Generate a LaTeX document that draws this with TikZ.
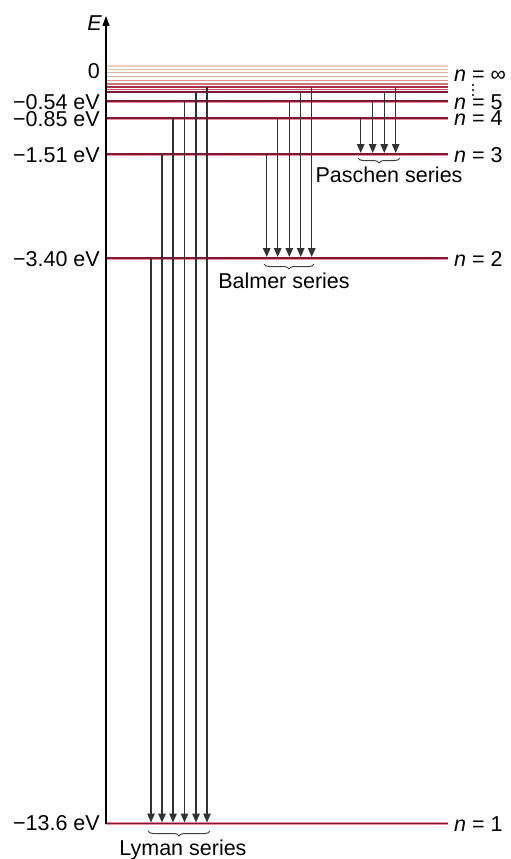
\documentclass[tikz,border=0pt]{standalone}
\usepackage{fontspec}
\setmainfont{Liberation Sans}
\usetikzlibrary{arrows.meta,decorations.pathreplacing}

\definecolor{levelred}{RGB}{125,25,50}
\definecolor{levelpink}{RGB}{235,140,160}
\definecolor{arrowgray}{RGB}{50,50,50}

\begin{document}
\begin{tikzpicture}[
  x=1pt, y=-1pt,
  font=\fontsize{21.5}{25}\selectfont,
  level/.style={draw=levelred, line width=1.5pt,
    preaction={draw=levelpink, line width=3pt}},
  upper/.style={line width=1.4pt},
  axis/.style={-{Triangle[length=10pt,width=7pt]}, line width=1.3pt},
  flow/.style={-{Triangle[length=9pt,width=7.5pt]}, line width=1.5pt,
    draw=arrowgray, shorten >=1pt},
  series/.style={decorate, decoration={brace, mirror, amplitude=5pt},
    line width=1pt, draw=black!75},
  elabel/.style={anchor=east, inner sep=0pt},
  nlabel/.style={anchor=west, inner sep=0pt},
  sname/.style={anchor=base, inner sep=0pt}
]
\useasboundingbox (0,0) rectangle (511,859);

% level positions on the axis
\coordinate (top) at (106,16);
\coordinate (edge) at (448,0);
\coordinate (Linf) at (106,66);
\coordinate (La) at (106,69.3);
\coordinate (Lb) at (106,72.7);
\coordinate (Lc) at (106,76.3);
\coordinate (Ld) at (106,80.2);
\coordinate (Le) at (106,84);
\coordinate (L7) at (106,86.8);
\coordinate (Lf) at (106,89.2);
\coordinate (L6) at (106,91.8);
\coordinate (L5) at (106,101);
\coordinate (L4) at (106,118);
\coordinate (L3) at (106,154);
\coordinate (L2) at (106,258);
\coordinate (L1) at (106,823.5);

% columns of the transitions
\coordinate (ly1) at (151,0);
\coordinate (ly2) at (162,0);
\coordinate (ly3) at (173,0);
\coordinate (ly4) at (184.5,0);
\coordinate (ly5) at (196,0);
\coordinate (ly6) at (207,0);
\coordinate (ba1) at (266.7,0);
\coordinate (ba2) at (277.7,0);
\coordinate (ba3) at (289.3,0);
\coordinate (ba4) at (300.7,0);
\coordinate (ba5) at (311.7,0);
\coordinate (pa1) at (360.7,0);
\coordinate (pa2) at (372.7,0);
\coordinate (pa3) at (384.3,0);
\coordinate (pa4) at (395.7,0);

% the levels near the limit
\draw[upper, draw={rgb,255:red,242;green,205;blue,188}] (Linf) -- (Linf -| edge);
\draw[upper, draw={rgb,255:red,228;green,195;blue,175}] (La) -- (La -| edge);
\draw[upper, draw={rgb,255:red,214;green,184;blue,166}] (Lb) -- (Lb -| edge);
\draw[upper, draw={rgb,255:red,212;green,172;blue,160}] (Lc) -- (Lc -| edge);
\draw[upper, draw={rgb,255:red,214;green,150;blue,140}] (Ld) -- (Ld -| edge);
\draw[upper, draw={rgb,255:red,200;green,118;blue,118}] (Le) -- (Le -| edge);
\draw[upper, draw={rgb,255:red,165;green,45;blue,68}] (L7) -- (L7 -| edge);
\draw[upper, draw={rgb,255:red,195;green,85;blue,98}] (Lf) -- (Lf -| edge);
\draw[upper, draw=levelred] (L6) -- (L6 -| edge);

% the labelled levels
\draw[level] (L5) -- (L5 -| edge);
\draw[level] (L4) -- (L4 -| edge);
\draw[level] (L3) -- (L3 -| edge);
\draw[level] (L2) -- (L2 -| edge);
\draw[level] (L1) -- (L1 -| edge);

% energy axis
\draw[axis] (L1) -- (top);
\node[elabel] (E) at (102,23) {\textit{E}};

% energies
\node[elabel] (e0) at (100,71) {0};
\node[elabel] (e5) at (100,102) {−0.54 eV};
\node[elabel] (e4) at (100,119) {−0.85 eV};
\node[elabel] (e3) at (100,155) {−1.51 eV};
\node[elabel] (e2) at (100,259) {−3.40 eV};
\node[elabel] (e1) at (100,823) {−13.6 eV};

% quantum numbers
\node[nlabel] (ninf) at (454,76) {\textit{n} = ∞};
\node[nlabel] (n5) at (454,102) {\textit{n} = 5};
\node[nlabel] (n4) at (454,118) {\textit{n} = 4};
\node[nlabel] (n3) at (454,155) {\textit{n} = 3};
\node[nlabel] (n2) at (454,259) {\textit{n} = 2};
\node[nlabel] (n1) at (454,824) {\textit{n} = 1};
\fill (473,85) circle (1.2pt) (473,90) circle (1.2pt) (473,95) circle (1.2pt);

% Lyman series
\draw[flow] (ly1 |- L2) -- (ly1 |- L1);
\draw[flow] (ly2 |- L3) -- (ly2 |- L1);
\draw[flow] (ly3 |- L4) -- (ly3 |- L1);
\draw[flow] (ly4 |- L5) -- (ly4 |- L1);
\draw[flow] (ly5 |- L6) -- (ly5 |- L1);
\draw[flow] (ly6 |- L7) -- (ly6 |- L1);

% Balmer series
\draw[flow] (ba1 |- L3) -- (ba1 |- L2);
\draw[flow] (ba2 |- L4) -- (ba2 |- L2);
\draw[flow] (ba3 |- L5) -- (ba3 |- L2);
\draw[flow] (ba4 |- L6) -- (ba4 |- L2);
\draw[flow] (ba5 |- L7) -- (ba5 |- L2);

% Paschen series
\draw[flow] (pa1 |- L4) -- (pa1 |- L3);
\draw[flow] (pa2 |- L5) -- (pa2 |- L3);
\draw[flow] (pa3 |- L6) -- (pa3 |- L3);
\draw[flow] (pa4 |- L7) -- (pa4 |- L3);

% braces and names
\draw[series] (358,158) -- (400,158);
\draw[series] (264,264) -- (314,264);
\draw[series] (148,831) -- (210,831);
\node[sname] (paschen) at (389,182) {Paschen series};
\node[sname] (balmer) at (284,288) {Balmer series};
\node[sname] (lyman) at (183,855) {Lyman series};
\end{tikzpicture}
\end{document}
